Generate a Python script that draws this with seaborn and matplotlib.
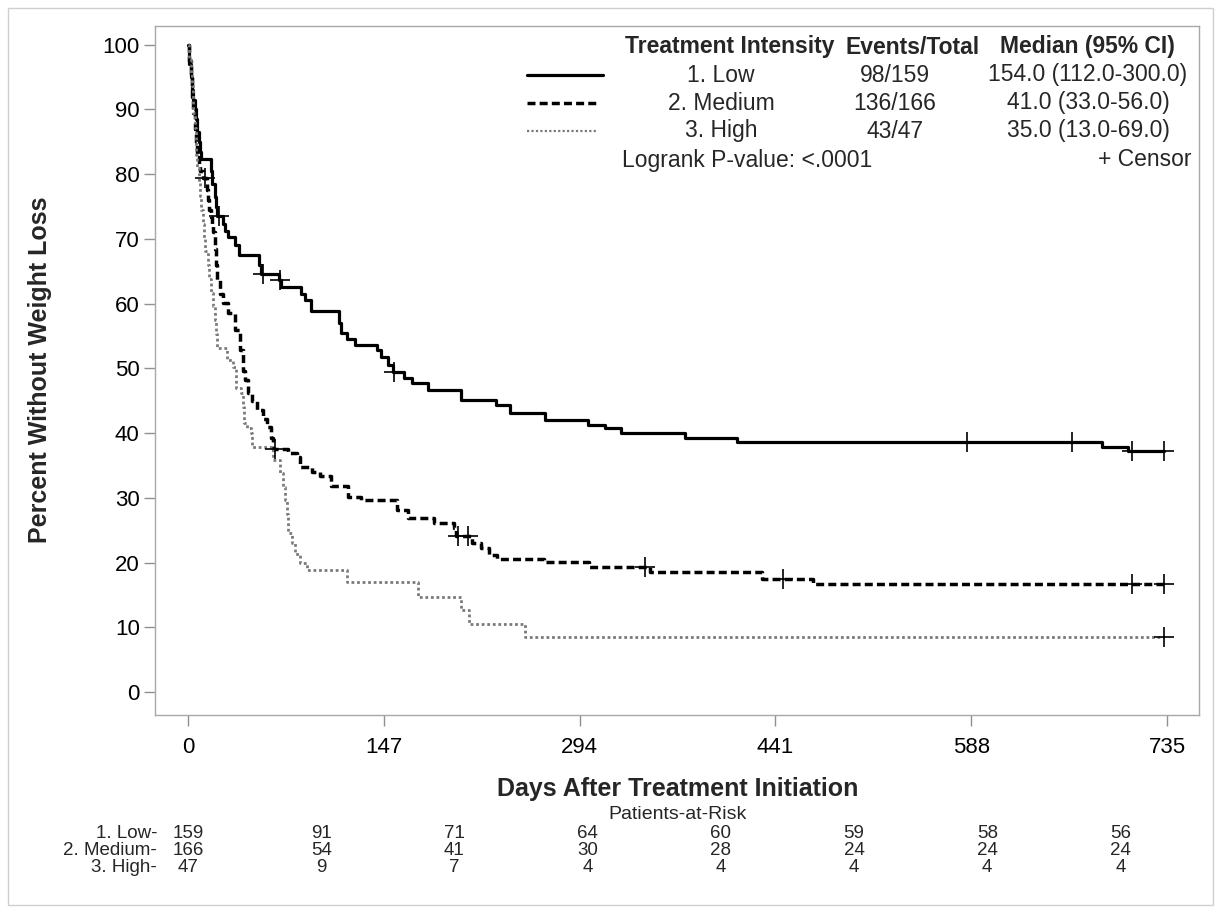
import numpy as np
import pandas as pd
import matplotlib
matplotlib.use("Agg")
import matplotlib.pyplot as plt
from matplotlib.lines import Line2D
from matplotlib.patches import Rectangle
import matplotlib.transforms as mtransforms
import seaborn as sns

# ---------------- data ----------------
groups = ["1. Low", "2. Medium", "3. High"]

low_days = [0, 1, 2, 3, 4, 5, 6, 7, 8, 9, 10, 17, 18, 20, 21, 22, 26, 28, 30, 35, 38,
            53, 55, 68, 70, 85, 88, 92, 113, 115, 119, 125, 142, 145, 150, 154,
            162, 168, 180, 205, 231, 242, 268, 300, 313, 325, 373, 412, 686, 706, 733]
low_pct = [100, 97, 95, 93, 91.5, 90, 88.5, 86.5, 85, 83.5, 82.4, 80.5, 78.5, 76.5, 75, 73.5,
           72.3, 71.3, 70.3, 69, 67.5, 66.0, 64.6, 63.6, 62.6, 61.5, 60.5, 58.8, 57.0,
           55.5, 54.6, 53.6, 52.8, 51.8, 50.5, 49.5, 48.5, 47.8, 46.7, 45.1, 44.4, 43.1,
           42.0, 41.3, 40.8, 40.0, 39.2, 38.7, 37.9, 37.2, 37.2]
low_censor = [23, 56, 69, 155, 585, 664, 709, 733]

med_days = [0, 1, 2, 3, 4, 5, 6, 7, 8, 9, 11, 14, 15, 16, 17, 18, 19, 20, 21, 22, 24,
            26, 30, 35, 39, 41, 43, 45, 48, 52, 56, 59, 62, 64, 75, 82, 84, 93, 99,
            107, 120, 130, 157, 165, 185, 200, 201, 213, 220, 226, 232, 267, 301, 347,
            431, 469, 733]
med_pct = [100, 97.5, 95, 92, 89.5, 87, 85, 83, 81.5, 80.5, 79.4, 77.5, 76, 74.5, 73.4,
           72, 71, 68.5, 66, 63.7, 61.5, 60.1, 58.6, 56, 52.9, 49.6, 48.2, 46.2, 45,
           43.6, 42.2, 41.0, 39.2, 37.6, 37.0, 36.3, 34.8, 34.0, 33.3, 31.8, 30.2, 29.7,
           28.1, 26.9, 26.1, 25.3, 24.1, 23.0, 22.3, 21.2, 20.6, 20.1, 19.3, 18.6,
           17.5, 16.7, 16.7]
med_censor = [13, 65, 203, 210, 343, 447, 709, 733]

high_days = [0, 1, 2, 3, 4, 5, 6, 7, 8, 9, 10, 11, 12, 13, 15, 16, 17, 19, 20, 21, 22,
             29, 34, 36, 40, 41, 42, 44, 47, 48, 64, 69, 71, 73, 74, 75, 78, 80, 84,
             89, 119, 173, 205, 211, 253, 733]
high_pct = [100, 97.9, 95.7, 93.6, 89.4, 87.2, 83.0, 80.9, 78.7, 76.6, 74.5, 72.3, 70.2,
            68.1, 66.0, 63.8, 61.7, 59.6, 57.4, 55.3, 53.2, 51.3, 50.2, 47.0, 46.2,
            44.0, 41.5, 40.8, 40.0, 37.9, 35.9, 33.8, 31.7, 29.7, 27.5, 24.6, 23.0,
            21.3, 19.9, 18.9, 17.0, 14.7, 12.7, 10.5, 8.5, 8.5]
high_censor = [733]

x_ticks = [0, 147, 294, 441, 588, 735]
y_ticks = [0, 10, 20, 30, 40, 50, 60, 70, 80, 90, 100]

risk_days = [0, 100, 200, 300, 400, 500, 600, 700]
risk_low = [159, 91, 71, 64, 60, 59, 58, 56]
risk_med = [166, 54, 41, 30, 28, 24, 24, 24]
risk_high = [47, 9, 7, 4, 4, 4, 4, 4]

events_total = ["98/159", "136/166", "43/47"]
medians = ["154.0 (112.0-300.0)", "41.0 (33.0-56.0)", "35.0 (13.0-69.0)"]

# ---------------- style ----------------
sns.set_theme(style="white")
plt.rcParams["font.family"] = ["Liberation Sans", "DejaVu Sans"]

FS = 16.0       # tick labels
FS_LEG = 16.5   # legend block
FS_LAB = 18.0   # axis labels
FS_RISK = 12.5  # at-risk table

W, H = 1221, 913
fig = plt.figure(figsize=(W / 100, H / 100), dpi=100)
fig.patch.set_facecolor("white")


def fx(px):
    return px / W


def fy(py):
    return 1 - py / H


ax = fig.add_axes([fx(155), fy(715), fx(1199) - fx(155), fy(26) - fy(715)])

styles = {
    "1. Low": dict(color="black", lw=2.3, ls="-"),
    "2. Medium": dict(color="black", lw=2.5, ls=(0, (2.3, 1.2))),
    "3. High": dict(color="#7a7a7a", lw=2.0, ls=(0, (1.0, 1.0))),
}
curves = {
    "1. Low": (low_days, low_pct, low_censor),
    "2. Medium": (med_days, med_pct, med_censor),
    "3. High": (high_days, high_pct, high_censor),
}

for g in groups:
    d, p, c = curves[g]
    df = pd.DataFrame({"day": d, "pct": p})
    st = styles[g]
    sns.lineplot(data=df, x="day", y="pct", ax=ax, color=st["color"], linewidth=st["lw"],
                 linestyle=st["ls"], drawstyle="steps-post", estimator=None, sort=False,
                 legend=False)
    # censor marks located on the step curve
    d_arr = np.asarray(d, dtype=float)
    p_arr = np.asarray(p, dtype=float)
    idx = np.searchsorted(d_arr, np.asarray(c, dtype=float), side="right") - 1
    cdf = pd.DataFrame({"day": c, "pct": p_arr[idx]})
    sns.scatterplot(data=cdf, x="day", y="pct", ax=ax, marker="+", s=200, color="black",
                    linewidth=1.2, legend=False, zorder=5)

ax.set_xlim(-24.8, 759)
ax.set_ylim(-3.55, 102.9)
ax.set_xticks(x_ticks)
ax.set_yticks(y_ticks)
ax.tick_params(axis="both", which="both", direction="out", length=8, width=1,
               color="#909090", labelsize=FS, labelcolor="black", pad=3,
               bottom=True, left=True)
ax.tick_params(axis="x", pad=8)
for s in ax.spines.values():
    s.set_color("#a8a8a8")
    s.set_linewidth(1)
ax.set_xlabel("")
ax.set_ylabel("")
ax.grid(False)

# axis labels
fig.text(fx(40), fy(370), "Percent Without Weight Loss", rotation=90, ha="center",
         va="center", fontsize=FS_LAB, fontweight="bold")
fig.text(fx(678), fy(789), "Days After Treatment Initiation", ha="center", va="center",
         fontsize=FS_LAB, fontweight="bold")
fig.text(fx(678), fy(814), "Patients-at-Risk", ha="center", va="center", fontsize=14)

# at-risk table
blend = mtransforms.blended_transform_factory(ax.transData, fig.transFigure)
row_y = [833, 850, 867]
for g, vals, yy in zip(groups, [risk_low, risk_med, risk_high], row_y):
    fig.text(fx(157), fy(yy), g + "-", ha="right", va="center", fontsize=FS_RISK + 1)
    for dday, v in zip(risk_days, vals):
        ax.text(dday, fy(yy), str(v), transform=blend, ha="center", va="center",
                fontsize=FS_RISK + 1, clip_on=False)

# legend block
fig.text(fx(730), fy(47), "Treatment Intensity", ha="center", va="center",
         fontsize=FS_LEG, fontweight="bold")
fig.text(fx(913), fy(47), "Events/Total", ha="center", va="center", fontsize=FS_LEG,
         fontweight="bold")
fig.text(fx(1087), fy(47), "Median (95% CI)", ha="center", va="center", fontsize=FS_LEG,
         fontweight="bold")
leg_y = [75, 103, 131]
sample_x = {"1. Low": (527, 603), "2. Medium": (527, 597), "3. High": (527, 597)}
for i, g in enumerate(groups):
    st = styles[g]
    x0, x1 = sample_x[g]
    fig.add_artist(Line2D([fx(x0), fx(x1)], [fy(leg_y[i]), fy(leg_y[i])],
                          transform=fig.transFigure, color=st["color"],
                          linewidth=st["lw"] if i != 2 else 1.6, linestyle=st["ls"]))
    fig.text(fx(721), fy(leg_y[i]), g, ha="center", va="center", fontsize=FS_LEG)
    fig.text(fx(895), fy(leg_y[i]), events_total[i], ha="center", va="center",
             fontsize=FS_LEG)
    fig.text(fx(1088), fy(leg_y[i]), medians[i], ha="center", va="center",
             fontsize=FS_LEG)
fig.text(fx(622), fy(160), "Logrank P-value: <.0001", ha="left", va="center",
         fontsize=FS_LEG)
fig.text(fx(1191), fy(160), "+ Censor", ha="right", va="center", fontsize=FS_LEG)

# outer frame
fig.add_artist(Rectangle((fx(8), fy(905)), fx(1213) - fx(8), fy(8) - fy(905),
                         transform=fig.transFigure, fill=False, edgecolor="#cfcfcf",
                         linewidth=1))

fig.savefig("out.png", dpi=100, facecolor="white")
